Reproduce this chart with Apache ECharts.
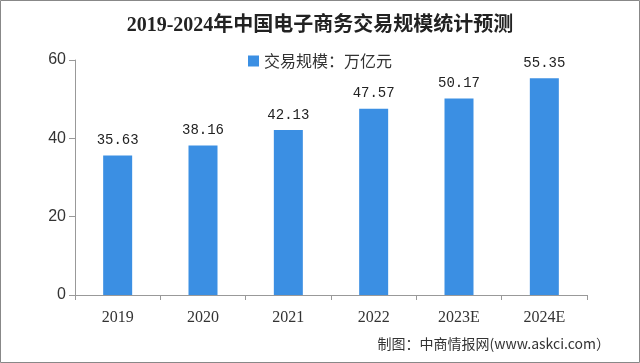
<!DOCTYPE html>
<html><head><meta charset="utf-8">
<script src="https://cdn.jsdelivr.net/npm/echarts@6/dist/echarts.min.js"></script>
<style>html,body{margin:0;padding:0;background:#fff}#c{width:640px;height:363px}</style>
</head><body><div id="c"></div>
<script>
const titleText = '2019-2024年中国电子商务交易规模统计预测';
const seriesName = '交易规模：万亿元';
const categories = ['2019','2020','2021','2022','2023E','2024E'];
const values = [35.63, 38.16, 42.13, 47.57, 50.17, 55.35];
const yTicks = [0, 20, 40, 60];
const footer = '制图：中商情报网(www.askci.com）';

const chart = echarts.init(document.getElementById('c'));
chart.setOption({
  animation: false,
  backgroundColor: '#fff',
  title: {
    text: titleText, left: 'center', top: 11,
    textStyle: {fontFamily: 'Liberation Serif, Noto Sans CJK SC', fontWeight: 'bold', fontSize: 20, color: '#222'}
  },
  legend: {
    data: [seriesName], top: 48, left: 'center', icon: 'rect', itemWidth: 11, itemHeight: 11, itemGap: 6,
    textStyle: {fontFamily: 'Noto Sans CJK SC', fontSize: 16, color: '#333'}
  },
  grid: {left: 75, right: 53, top: 60, bottom: 68, containLabel: false},
  xAxis: {
    type: 'category', data: categories,
    axisLine: {lineStyle: {color: '#999', width: 1}},
    axisTick: {show: true, length: 5, lineStyle: {color: '#999'}},
    axisLabel: {fontFamily: 'Liberation Serif', fontSize: 16, color: '#333', margin: 15}
  },
  yAxis: {
    type: 'value', min: yTicks[0], max: yTicks[yTicks.length-1], interval: 20,
    splitLine: {show: false},
    axisLine: {show: true, lineStyle: {color: '#999'}},
    axisTick: {show: true, length: 6, lineStyle: {color: '#999'}},
    axisLabel: {fontFamily: 'Liberation Sans', fontSize: 16, color: '#333', margin: 9}
  },
  series: [{
    name: seriesName, type: 'bar', data: values, barWidth: 29,
    itemStyle: {color: '#3b8fe3'},
    label: {show: true, position: 'top', distance: 8, fontFamily: 'Liberation Mono', fontSize: 14, color: '#222',
      formatter: p => p.value.toFixed(2)}
  }],
  graphic: [
    {type: 'text', right: 30, top: 337, style: {text: footer, fontFamily: 'Noto Sans CJK SC', fontSize: 14, fill: '#333'}},
    {type: 'rect', shape: {x: 0.5, y: 0.5, width: 639, height: 362}, style: {fill: 'none', stroke: '#888', lineWidth: 1}, silent: true}
  ]
});
</script></body></html>
